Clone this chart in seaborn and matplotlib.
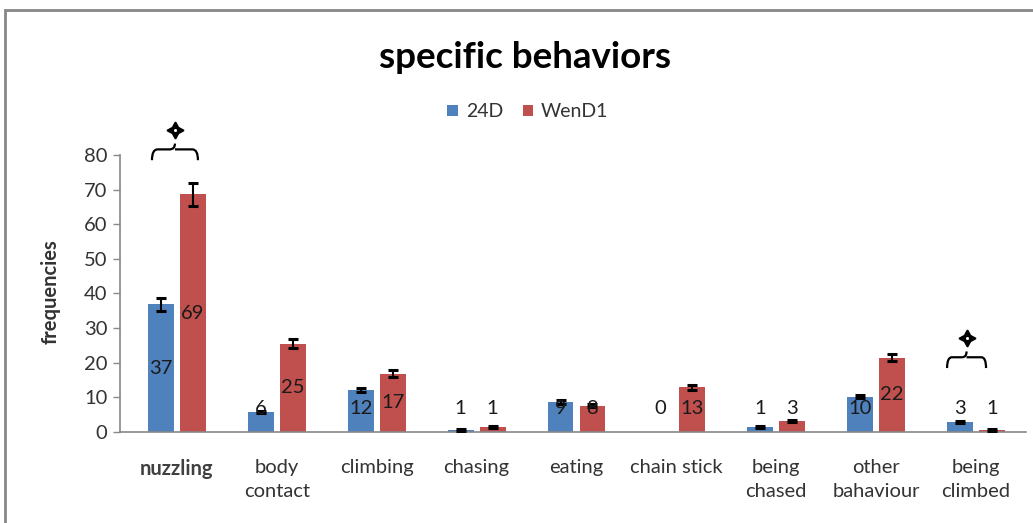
import numpy as np
import pandas as pd
import seaborn as sns
import matplotlib
matplotlib.use("Agg")
import matplotlib.pyplot as plt
from matplotlib.path import Path
from matplotlib.patches import PathPatch, Rectangle, Patch

# ---------------- data ----------------
categories = ["nuzzling", "body\ncontact", "climbing", "chasing", "eating",
              "chain stick", "being\nchased", "other\nbahaviour", "being\nclimbed"]
series = ["24D", "WenD1"]
values_24d = [36.8, 5.6, 12.1, 0.5, 8.7, 0.0, 1.4, 10.1, 2.8]
values_wend1 = [68.6, 25.5, 16.7, 1.4, 7.5, 12.9, 3.1, 21.4, 0.5]
err_24d = [2.0, 0.3, 0.5, 0.2, 0.6, 0.0, 0.2, 0.5, 0.2]
err_wend1 = [3.4, 1.3, 1.0, 0.3, 0.5, 0.7, 0.2, 1.1, 0.2]
labels_24d = ["37", "6", "12", "1", "9", "0", "1", "10", "3"]
labels_wend1 = ["69", "25", "17", "1", "8", "13", "3", "22", "1"]
yticks = [0, 10, 20, 30, 40, 50, 60, 70, 80]
sig_categories = ["nuzzling", "being\nclimbed"]
sig_brace_y = [78.5, 18.4]
sig_brace_span = [(-0.25, 0.21), (-0.29, 0.10)]

colors = ["#4F81BD", "#C0504D"]

df = pd.DataFrame({
    "category": categories * 2,
    "group": [series[0]] * len(categories) + [series[1]] * len(categories),
    "value": values_24d + values_wend1,
})

sns.set_style("white")
FONT = ["Lato", "DejaVu Sans"]
plt.rcParams["font.family"] = FONT
TXT = "#333333"

fig = plt.figure(figsize=(10.33, 5.23), dpi=100)
ax = fig.add_axes([120 / 1033, 91.3 / 523, 906 / 1033, 276.7 / 523])

sns.barplot(data=df, x="category", y="value", hue="group", order=categories,
            hue_order=series, palette=colors, width=0.64, gap=0.19,
            errorbar=None, saturation=1, legend=False, ax=ax, edgecolor="none")

bar_containers = list(ax.containers)[:2]
errs = [err_24d, err_wend1]
labs = [labels_24d, labels_wend1]
vals = [values_24d, values_wend1]
for ci, cont in enumerate(bar_containers):
    for bi, bar in enumerate(cont):
        xc = bar.get_x() + bar.get_width() / 2
        h = vals[ci][bi]
        e = errs[ci][bi]
        if e > 0:
            ax.errorbar(xc, h, yerr=e, fmt="none", ecolor="black",
                        elinewidth=1.5, capsize=3.6, capthick=2.2, zorder=4)
        ax.text(xc, max(h / 2, 6.6), labs[ci][bi], ha="center", va="center",
                fontsize=14.5, color="#1a1a1a", zorder=5)

ax.set_ylim(0, 80)
ax.set_xlim(-0.57, 8.5)
ax.set_yticks(yticks)
ax.set_yticklabels([str(t) for t in yticks], fontsize=14.5, color=TXT)
ax.tick_params(axis="y", which="both", left=True, length=5, width=1,
               color="#888888", pad=4)
ax.tick_params(axis="x", length=0, pad=20)
ax.set_xticks(range(len(categories)))
ax.set_xticklabels(categories, fontsize=14.5, color=TXT, linespacing=1.5, va="top")
for t in ax.get_xticklabels():
    if t.get_text() == "nuzzling":
        t.set_fontweight("bold")
        t.set_color("#404040")
ax.set_xlabel("")
ax.set_ylabel("frequencies", fontsize=14.5, fontweight="bold", color=TXT)
ax.yaxis.set_label_coords(-0.066, 0.505)

for s in ["top", "right"]:
    ax.spines[s].set_visible(False)
for s in ["left", "bottom"]:
    ax.spines[s].set_color("#888888")
    ax.spines[s].set_linewidth(1.2)

# significance braces with stars
def brace(ax, x0, x1, y0, h):
    xm = (x0 + x1) / 2
    r = (x1 - x0) * 0.12
    yb = y0 + h * 0.65
    verts = [(x0, y0), (x0, yb), (x0 + r, yb),
             (xm - r, yb), (xm, yb), (xm, y0 + h),
             (xm, yb), (xm + r, yb),
             (x1 - r, yb), (x1, yb), (x1, y0)]
    codes = [Path.MOVETO, Path.CURVE3, Path.CURVE3,
             Path.LINETO, Path.CURVE3, Path.CURVE3,
             Path.MOVETO, Path.CURVE3,
             Path.LINETO, Path.CURVE3, Path.CURVE3]
    ax.add_patch(PathPatch(Path(verts, codes), fill=False, lw=1.6,
                           edgecolor="black", clip_on=False, zorder=6))
    ys = y0 + h + 4.0
    ax.plot([xm], [ys], marker=(4, 1, 0), markersize=12,
            markerfacecolor="black", markeredgecolor="black",
            markeredgewidth=1.2, clip_on=False, zorder=7)
    ax.plot([xm], [ys], marker="o", markersize=2.2, markerfacecolor="white",
            markeredgecolor="none", clip_on=False, zorder=8)

for cat, yb, (dx0, dx1) in zip(sig_categories, sig_brace_y, sig_brace_span):
    i = categories.index(cat)
    brace(ax, i + dx0, i + dx1, yb, 4.8)

# legend
handles = [Patch(facecolor=c, edgecolor="none") for c in colors]
fig.legend(handles, series, loc="center", bbox_to_anchor=(0.511, 0.786),
           ncol=2, frameon=False, fontsize=14, handlelength=0.55,
           handleheight=0.55, handletextpad=0.4, columnspacing=1.0,
           labelcolor=TXT)

fig.text(0.508, 0.891, "specific behaviors", ha="center", va="center",
         fontsize=26.5, fontweight="bold", color="black")

fig.patches.append(Rectangle((4.5 / 1033, -0.1), 1.2, 1.1 - 10.5 / 523,
                             transform=fig.transFigure, fill=False,
                             edgecolor="#868686", lw=2, zorder=0))

fig.savefig("out.png", dpi=100)
